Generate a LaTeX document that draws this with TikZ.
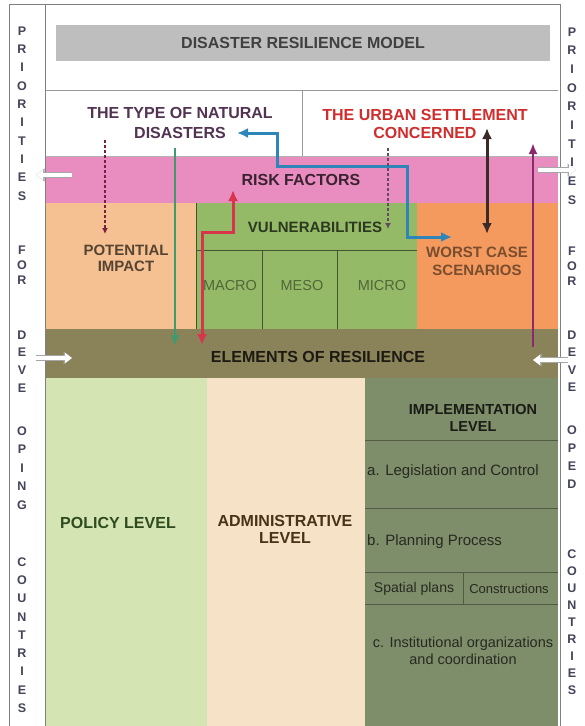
\documentclass[tikz,border=0pt]{standalone}
\usepackage{fontspec}
\setmainfont{Liberation Sans}
\usepackage{xcolor}
\usetikzlibrary{arrows.meta}

\definecolor{titlegray}{HTML}{BEBEBE}
\definecolor{riskpink}{HTML}{E98CC0}
\definecolor{impactpeach}{HTML}{F6C192}
\definecolor{vulgreen}{HTML}{94BA67}
\definecolor{worstorange}{HTML}{F49A5E}
\definecolor{elemolive}{HTML}{8A8259}
\definecolor{policygreen}{HTML}{D4E4B2}
\definecolor{adminpeach}{HTML}{F6E3C7}
\definecolor{implgreen}{HTML}{7E8D6A}
\definecolor{sidetext}{HTML}{44445A}
\definecolor{policytext}{HTML}{2E4A1F}
\definecolor{admintext}{HTML}{4A3214}
\definecolor{arrblue}{HTML}{2E86B8}
\definecolor{arrred}{HTML}{D8344C}
\definecolor{arrgreen}{HTML}{3F9A6E}
\definecolor{arrdark}{HTML}{3A2A28}
\definecolor{arrpurple}{HTML}{8A2A6A}
\definecolor{arrmaroon}{HTML}{7A2040}

\begin{document}
\begin{tikzpicture}[x=1pt,y=-1pt,
  lbl/.style={font=\fontsize{16}{19}\selectfont\bfseries, align=center, inner sep=0pt},
  sub/.style={font=\fontsize{15}{17}\selectfont, align=center, text=black!70!implgreen, inner sep=0pt},
  side/.style={font=\fontsize{12.5}{#1}\selectfont\bfseries, align=center, inner sep=0pt, text=sidetext},
  warrow/.style={white, line width=4pt, -{Triangle[width=10pt,length=7pt]},
    preaction={draw=gray!70, line width=5.6pt, -{Triangle[width=12.5pt,length=8.5pt]}}},
  tipped/.style={line width=#1, {Latex[length=11pt,width=10pt]}-{Latex[length=11pt,width=10pt]}}]
\fill[white] (0,0) rectangle (585,726);
\useasboundingbox (0,0) rectangle (585,726);

% colour fields
\fill[titlegray] (56,25) rectangle (550,61);
\fill[riskpink] (46,156) rectangle (558,203);
\fill[impactpeach] (46,203) rectangle (196,329);
\fill[vulgreen] (196,203) rectangle (417,329);
\fill[worstorange] (417,203) rectangle (558,329);
\fill[elemolive] (46,329) rectangle (558,378);
\fill[policygreen] (46,378) rectangle (207,726);
\fill[adminpeach] (207,378) rectangle (365,726);
\fill[implgreen] (365,378) rectangle (558,726);

% frame
\draw[gray, line width=1pt] (9,4) -- (560,4);
\foreach \x in {9,45,560}
\draw[gray, line width=1pt] (\x,4) -- (\x,726);
\draw[gray!80] (46,90) -- (558,90);
\draw[gray!80] (302,90) -- (302,156);
\draw[gray!60] (46,156) -- (558,156);
\draw[black!55!vulgreen] (196,203) -- (196,329);
\draw[black!55!vulgreen] (196,250) -- (417,250);
\foreach \x in {262,337}
\draw[black!55!vulgreen] (\x,250) -- (\x,329);
\foreach \y in {440,508,572,604}
\draw[black!35!implgreen, line width=1pt] (365,\y) -- (558,\y);
\draw[black!35!implgreen, line width=1pt] (463,572) -- (463,604);

% texts
\node[lbl, text=black!75] (title) at (303,43) {DISASTER RESILIENCE MODEL};
\node[lbl, text=black!60!violet!60!gray, font=\fontsize{16}{20}\selectfont\bfseries] (natural) at (180,123) {THE TYPE OF NATURAL\\DISASTERS};
\node[lbl, text=red!65!gray, font=\fontsize{16}{18}\selectfont\bfseries] (urban) at (425,124) {THE URBAN SETTLEMENT\\CONCERNED};
\node[lbl, text=black!75!riskpink] (risk) at (301,180) {RISK FACTORS};
\node[lbl, text=black!70!vulgreen, font=\fontsize{15}{17}\selectfont\bfseries] (vul) at (315,227) {VULNERABILITIES};
\node[lbl, text=black!65!impactpeach, font=\fontsize{15}{16}\selectfont\bfseries] (impact) at (126,258) {POTENTIAL\\IMPACT};
\node[lbl, text=black!50!worstorange, font=\fontsize{15}{18}\selectfont\bfseries] (worst) at (477,261) {WORST CASE\\SCENARIOS};
\node[sub, text=black!45!vulgreen, font=\fontsize{14.5}{17}\selectfont] (macro) at (230,286) {MACRO};
\node[sub, text=black!45!vulgreen, font=\fontsize{14.5}{17}\selectfont] (meso) at (302,286) {MESO};
\node[sub, text=black!45!vulgreen, font=\fontsize{14.5}{17}\selectfont] (micro) at (382,286) {MICRO};
\node[lbl, text=black!80!elemolive] (elements) at (318,357) {ELEMENTS OF RESILIENCE};
\node[lbl, text=policytext] (policy) at (118,523) {POLICY LEVEL};
\node[lbl, text=admintext, font=\fontsize{16}{17}\selectfont\bfseries] (admin) at (285,529) {ADMINISTRATIVE\\LEVEL};
\node[lbl, text=black!80!implgreen, font=\fontsize{14.5}{17}\selectfont\bfseries] (impl) at (473,418) {IMPLEMENTATION\\LEVEL};
\node[sub, anchor=west] (legis) at (367,472) {a. Legislation and Control};
\node[sub, anchor=west] (planning) at (367,542) {b. Planning Process};
\node[sub, font=\fontsize{14}{17}\selectfont] (spatial) at (414,589) {Spatial plans};
\node[sub, font=\fontsize{13}{17}\selectfont] (constr) at (509,589) {Constructions};
\node[sub, font=\fontsize{14.5}{17}\selectfont] (instit) at (463,651) {c. Institutional organizations\\and coordination};

% side columns
\node[side=18.3] (lprio) at (22,113.5) {P\\R\\I\\O\\R\\I\\T\\I\\E\\S};
\node[side=15] (lfor) at (22,265) {F\\O\\R};
\node[side=17.7] (ldeve) at (22,361.5) {D\\E\\V\\E};
\node[side=18.5] (loping) at (22,468) {O\\P\\I\\N\\G};
\node[side=18.25] (lcount) at (22,635) {C\\O\\U\\N\\T\\R\\I\\E\\S};
\node[side=18.7] (rprio) at (572,116) {P\\R\\I\\O\\R\\I\\T\\I\\E\\S};
\node[side=15] (rfor) at (572,266) {F\\O\\R};
\node[side=17.5] (rdeve) at (572,361) {D\\E\\V\\E};
\node[side=18] (roped) at (572,457) {O\\P\\E\\D};
\node[side=17] (rcount) at (572,622) {C\\O\\U\\N\\T\\R\\I\\E\\S};

% arrow ends
\coordinate (blueA) at (237,133);
\coordinate (blueB) at (452,237);
\coordinate (redA) at (202,345);
\coordinate (redB) at (233,190);
\coordinate (greenA) at (175,148);
\coordinate (greenB) at (175,346);
\coordinate (dotA) at (105,140);
\coordinate (dotB) at (105,234);
\coordinate (dotC) at (388,148);
\coordinate (dotD) at (388,229);
\coordinate (darkA) at (487,128);
\coordinate (darkB) at (487,234);
\coordinate (purpA) at (533,347);
\coordinate (purpB) at (533,143);

\draw[arrblue, tipped=3pt] (blueA) -- (277,133) -- (277,166) -- (407,166) -- (407,237) -- (blueB);
\draw[arrred, tipped=3pt] (redA) -- (202,232) -- (233,232) -- (redB);
\draw[arrgreen, line width=2pt, -{Latex[length=11pt,width=9pt]}] (greenA) -- (greenB);
\draw[arrmaroon, line width=1.3pt, densely dashed, -{Latex[length=6pt,width=6pt]}] (dotA) -- (dotB);
\draw[black!60!violet!40!gray, line width=1.3pt, densely dashed, -{Latex[length=6pt,width=6pt]}] (dotC) -- (dotD);
\draw[arrdark, tipped=3pt] (darkA) -- (darkB);
\draw[arrpurple, line width=2.5pt, -{Latex[length=11pt,width=9pt]}] (purpA) -- (purpB);

% white arrows to the side columns
\coordinate (wl1) at (72,175);
\coordinate (wl2) at (36,175);
\coordinate (wr1) at (538,170);
\coordinate (wr2) at (576,170);
\coordinate (wl3) at (36,358);
\coordinate (wl4) at (72,358);
\coordinate (wr3) at (568,360);
\coordinate (wr4) at (533,360);
\draw[warrow] (wl1) -- (wl2);
\draw[warrow] (wr1) -- (wr2);
\draw[warrow] (wl3) -- (wl4);
\draw[warrow] (wr3) -- (wr4);
\end{tikzpicture}
\end{document}
